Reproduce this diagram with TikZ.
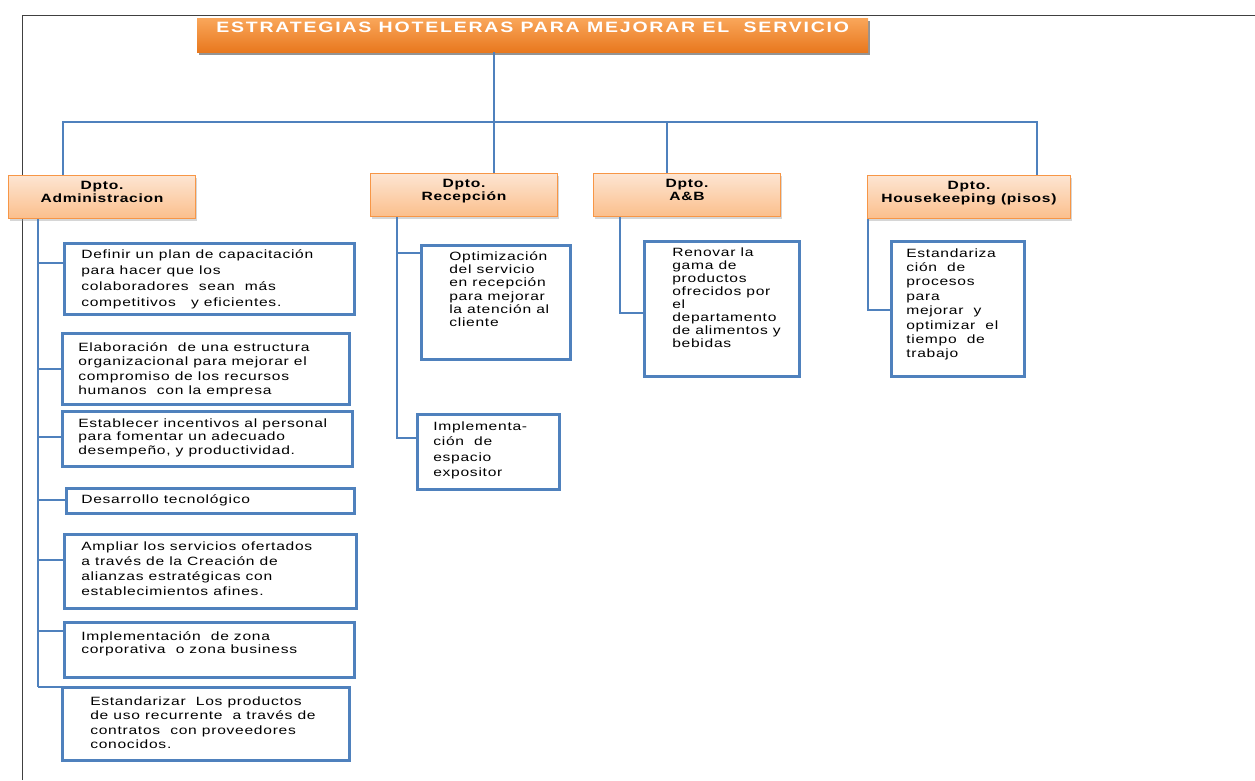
\documentclass[tikz,border=0pt]{standalone}
\usepackage{fontspec}
\setmainfont{Liberation Sans}[FakeStretch=1.3,LetterSpace=6]
\newfontfamily\titlefont{Liberation Sans}[FakeStretch=1.3,LetterSpace=12]
\usetikzlibrary{shadows,calc}
\definecolor{cLine}{HTML}{4F81BD}
\definecolor{cOrgTop}{HTML}{F9A65A}
\definecolor{cOrgBot}{HTML}{E8781E}
\definecolor{cDepTop}{HTML}{FDE5D2}
\definecolor{cDepBot}{HTML}{FBBF8C}
\definecolor{cDepLine}{HTML}{F79646}
% height, width, left pad, top pad, text
\newcommand{\celltxt}[5]{\parbox[c][#1][t]{#2}{\raggedright\leftskip=#3\relax\vspace*{#4}#5}}
\tikzset{
  frame/.style    ={draw=black!75, line width=0.8pt},
  maintitle/.style={anchor=north west, inner sep=0pt, top color=cOrgTop, bottom color=cOrgBot,
                    drop shadow={shadow xshift=2pt, shadow yshift=-3pt, fill=black!70, opacity=.6},
                    font=\fontsize{15}{17}\selectfont, text=white},
  dept/.style     ={anchor=north west, inner sep=0pt, draw=cDepLine, line width=1pt,
                    top color=cDepTop, bottom color=cDepBot,
                    drop shadow={shadow xshift=1.5pt, shadow yshift=-2pt, fill=black!40, opacity=.4},
                    font=\fontsize{12}{13}\selectfont\bfseries},
  strat/.style    ={anchor=north west, inner sep=0pt, draw=cLine, line width=2.6pt, fill=white,
                    font=\fontsize{12}{14.5}\selectfont},
  link/.style     ={draw=cLine, line width=1.3pt},
}
\begin{document}
\begin{tikzpicture}[x=1pt,y=-1pt]
  \useasboundingbox (0,0) rectangle (1255,780);
  \draw[frame] (22,780) -- (22,15) -- (1255,15);

  % titulo
  \node[maintitle] (tit) at (197,18) {\celltxt{34pt}{671pt}{0pt}{4pt}{\centering\titlefont\bfseries ESTRATEGIAS HOTELERAS PARA MEJORAR EL\ \ SERVICIO}};

  % departamentos
  \node[dept] (adm) at (8,175)   {\celltxt{43pt}{187pt}{0pt}{6pt}{\centering Dpto.\\Administracion}};
  \node[dept] (rec) at (370,173) {\celltxt{43pt}{187pt}{0pt}{6pt}{\centering Dpto.\\Recepción}};
  \node[dept] (ab)  at (593,173) {\celltxt{43pt}{187pt}{0pt}{6pt}{\centering Dpto.\\A\&B}};
  \node[dept] (hk)  at (867,175) {\celltxt{43pt}{203pt}{0pt}{6pt}{\centering Dpto.\\Housekeeping (pisos)}};

  % administracion
  \node[strat, font=\fontsize{12}{16}\selectfont] (a1) at (63,242) {\celltxt{71pt}{290pt}{17pt}{6pt}{Definir un plan de capacitación\\para hacer que los\\colaboradores\ \ sean\ \ más\\competitivos\ \ \ y eficientes.}};
  \node[strat] (a2) at (61,332) {\celltxt{71pt}{287pt}{16pt}{9pt}{Elaboración\ \ de una estructura\\organizacional para mejorar el\\compromiso de los recursos\\humanos\ \ con la empresa}};
  \node[strat, font=\fontsize{12}{13.5}\selectfont] (a3) at (61,410) {\celltxt{55pt}{290pt}{16pt}{7pt}{Establecer incentivos al personal\\para fomentar un adecuado\\desempeño, y productividad.}};
  \node[strat] (a4) at (65,487) {\celltxt{25pt}{288pt}{15pt}{6pt}{Desarrollo tecnológico}};
  \node[strat, font=\fontsize{12}{15}\selectfont] (a5) at (63,533) {\celltxt{74pt}{292pt}{17pt}{7pt}{Ampliar los servicios ofertados\\a través de la Creación de\\alianzas estratégicas con\\establecimientos afines.}};
  \node[strat, font=\fontsize{12}{13}\selectfont] (a6) at (63,621) {\celltxt{55pt}{290pt}{17pt}{9pt}{Implementación\ \ de zona\\corporativa\ \ o zona business}};
  \node[strat] (a7) at (61,686) {\celltxt{73pt}{287pt}{28pt}{9pt}{Estandarizar\ \ Los productos\\de uso recurrente\ \ a través de\\contratos\ \ con proveedores\\conocidos.}};

  % recepcion
  \node[strat, font=\fontsize{12}{13.3}\selectfont] (r1) at (420,244) {\celltxt{114pt}{149pt}{28pt}{6pt}{Optimización\\del servicio\\en recepción\\para mejorar\\la atención al\\cliente}};
  \node[strat, font=\fontsize{12}{15.5}\selectfont] (r2) at (416,413) {\celltxt{75pt}{142pt}{16pt}{7pt}{Implementa-\\ción\ \ de\\espacio\\expositor}};

  % a&b y pisos
  \node[strat, font=\fontsize{12}{13}\selectfont] (b1) at (643,240) {\celltxt{135pt}{155pt}{28pt}{6pt}{Renovar la\\gama de\\productos\\ofrecidos por\\el\\departamento\\de alimentos y\\bebidas}};
  \node[strat, font=\fontsize{12}{14.4}\selectfont] (h1) at (890,240) {\celltxt{135pt}{133pt}{15pt}{7pt}{Estandariza\\ción\ \ de\\procesos\\para\\mejorar\ \ y\\optimizar\ \ el\\tiempo\ \ de\\trabajo}};

  % conectores
  \coordinate (jT) at (494,122);
  \coordinate (jL) at (63,122);
  \coordinate (jA) at (667,122);
  \coordinate (jR) at (1037,122);
  \draw[link] (tit.south -| jT) -- (jT) -- (rec.north -| jT);
  \draw[link] (adm.north -| jL) -- (jL) -- (jR) -- (hk.north -| jR);
  \draw[link] (jA) -- (ab.north -| jA);

  \coordinate (sA) at (38,687);
  \draw[link] (adm.south -| sA) -- (sA);
  \foreach \n/\d in {a1/21,a2/37,a3/27,a4/13,a5/27,a6/10,a7/1}
    \draw[link] ($(\n.north west)+(0,\d)$) coordinate (t) -- (t -| sA);

  \coordinate (sR) at (397,438);
  \draw[link] (rec.south -| sR) -- (sR) -- (sR -| r2.west);
  \draw[link] ($(r1.north west)+(0,9)$) coordinate (t) -- (t -| sR);

  \coordinate (sB) at (620,313);
  \draw[link] (ab.south -| sB) -- (sB) -- (sB -| b1.west);
  \coordinate (sH) at (868,310);
  \draw[link] (hk.south -| sH) -- (sH) -- (sH -| h1.west);
\end{tikzpicture}
\end{document}
